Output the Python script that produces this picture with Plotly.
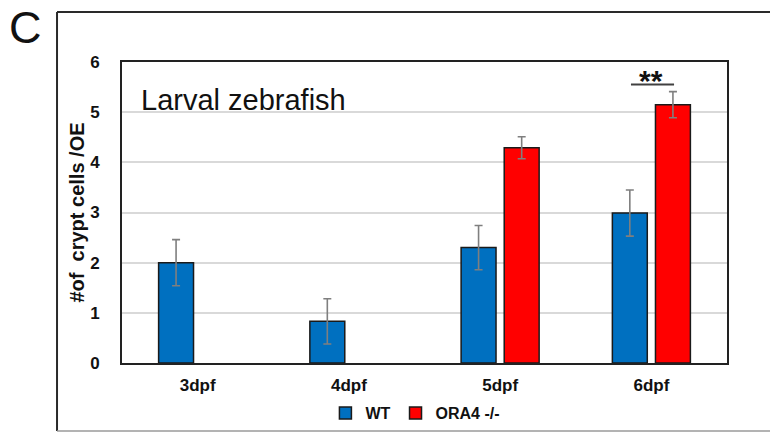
import plotly.graph_objects as go

# Crypt cell counts per olfactory epithelium in larval zebrafish
stages = ["3dpf", "4dpf", "5dpf", "6dpf"]
wt_mean = [2.0, 0.83, 2.30, 2.99]
wt_sem = [0.46, 0.45, 0.44, 0.46]
ora4_mean = [None, None, 4.29, 5.15]
ora4_sem = [None, None, 0.22, 0.26]
y_ticks = [0, 1, 2, 3, 4, 5, 6]

FONT = "Liberation Sans, Arial, sans-serif"
BLUE = "#0070C0"
RED = "#FF0000"
OUTLINE = "#1a1a1a"
ERR = "#7f7f7f"

fig = go.Figure()
fig.add_trace(go.Bar(
    name="WT", x=stages, y=wt_mean,
    marker=dict(color=BLUE, line=dict(color=OUTLINE, width=1.5)),
    error_y=dict(type="data", array=wt_sem, color=ERR, thickness=1.6, width=4),
))
fig.add_trace(go.Bar(
    name="ORA4 -/-", x=stages, y=ora4_mean,
    marker=dict(color=RED, line=dict(color=OUTLINE, width=1.5)),
    error_y=dict(type="data", array=ora4_sem, color=ERR, thickness=1.6, width=4),
))

# significance bracket over the 6dpf pair
fig.add_shape(type="line", xref="x", yref="y", x0=2.865, x1=3.15, y0=5.55, y1=5.55,
              line=dict(color="#404040", width=2))
fig.add_annotation(x=3.0, y=5.72, xref="x", yref="y", text="<b>**</b>", showarrow=False,
                   yanchor="middle", yshift=-4, font=dict(family=FONT, size=30, color="#111"))

# in-plot title
fig.add_annotation(x=0.028, y=5.25, xref="paper", yref="y", text="Larval zebrafish",
                   showarrow=False, xanchor="left", yanchor="middle",
                   font=dict(family=FONT, size=29, color="#111"))

# panel letter
fig.add_annotation(x=-0.19, y=1.115, xref="paper", yref="paper", text="C", showarrow=False,
                   xanchor="left", yanchor="middle",
                   font=dict(family=FONT, size=45, color="#111"))

# outer panel frame
fig.add_shape(type="line", xref="paper", yref="paper", x0=-0.1074, x1=-0.1074, y0=-0.226, y1=1.166,
              line=dict(color="#2a2a2a", width=2))
fig.add_shape(type="line", xref="paper", yref="paper", x0=-0.1074, x1=1.09, y0=1.166, y1=1.166,
              line=dict(color="#2a2a2a", width=2))
fig.add_shape(type="line", xref="paper", yref="paper", x0=-0.1074, x1=1.09, y0=-0.226, y1=-0.226,
              line=dict(color="#9a9a9a", width=1.5))

fig.update_layout(
    width=770, height=432,
    margin=dict(l=122, r=43, t=62, b=69, autoexpand=False),
    paper_bgcolor="white", plot_bgcolor="white",
    barmode="group", bargap=0.43, bargroupgap=0.19,
    font=dict(family=FONT, color="#111"),
    showlegend=True,
    legend=dict(orientation="h", x=0.485, xanchor="center", y=-0.11, yanchor="top",
                font=dict(family=FONT, size=16, color="#111", weight="bold"),
                itemwidth=30, tracegroupgap=0, bgcolor="rgba(0,0,0,0)"),
    xaxis=dict(
        showline=True, linecolor="#222", linewidth=2, mirror=True,
        ticks="", tickfont=dict(family=FONT, size=17, color="#111", weight="bold"),
        ticklabelstandoff=6,
    ),
    yaxis=dict(
        range=[0, 6], tickvals=y_ticks, ticktext=[str(v) for v in y_ticks],
        showline=True, linecolor="#222", linewidth=2, mirror=True,
        showgrid=True, gridcolor="#d9d9d9", gridwidth=1.5, zeroline=False,
        ticks="", tickfont=dict(family=FONT, size=17, color="#111", weight="bold"),
        ticklabelstandoff=17,
        title=dict(text="#of  crypt cells /OE", standoff=0,
                   font=dict(family=FONT, size=20, color="#111", weight="bold")),
    ),
)

fig.write_html("out.html")
